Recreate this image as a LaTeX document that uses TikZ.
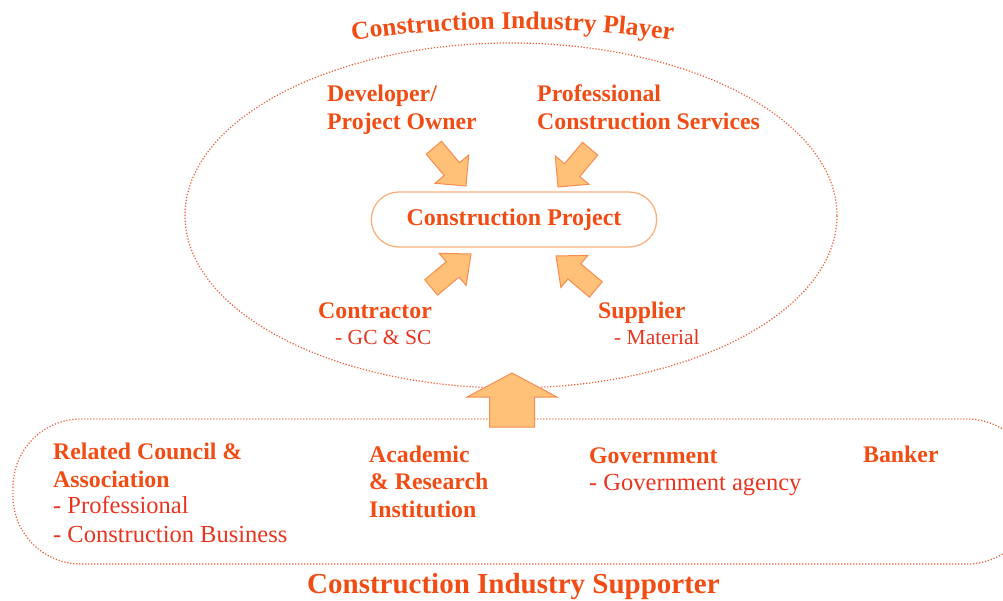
\documentclass[tikz,border=0pt]{standalone}
\usepackage{fontspec}
\setmainfont{Liberation Serif}
\usetikzlibrary{decorations.text,shapes.misc}

\definecolor{labelred}{RGB}{240,76,20}
\definecolor{subred}{RGB}{232,52,30}
\definecolor{dotline}{RGB}{240,90,50}
\definecolor{arrowfill}{RGB}{255,192,120}
\definecolor{arrowedge}{RGB}{246,140,80}
\definecolor{boxedge}{RGB}{250,175,125}

\tikzset{
  dotted outline/.style={draw=dotline, line width=1.2pt, dash pattern=on 1.2pt off 1.8pt},
  head/.style={font=\fontsize{23.8}{28}\selectfont\bfseries, text=labelred, inner sep=0pt, anchor=base west, align=left},
  sub/.style={font=\fontsize{24.5}{29}\selectfont, text=subred, inner sep=0pt, anchor=base west, align=left},
  smallsub/.style={sub, font=\fontsize{21.5}{26}\selectfont},
  arrowbody/.style={fill=arrowfill, draw=arrowedge, line width=1pt, line join=miter},
  % block arrow with its tip at the origin, pointing along +x
  % arguments: length / shaft width / head width / head length
  pics/blockarr/.style args={#1/#2/#3/#4}{code={
    \path[arrowbody] (0,0) -- ({-#4},{#3/2}) -- ({-#4},{#2/2}) -- ({-#1},{#2/2})
      -- ({-#1},{-#2/2}) -- ({-#4},{-#2/2}) -- ({-#4},{-#3/2}) -- cycle;
  }},
}

\begin{document}
\begin{tikzpicture}[x=1pt, y=-1pt]
\useasboundingbox (0,0) rectangle (1003,601);

% outer groups
\draw[dotted outline] (511,215.5) ellipse [x radius=326pt, y radius=172.5pt];
\draw[dotted outline, rounded corners=68pt] (13,419) rectangle (1035,564);

% curved heading of the upper group
\path[decorate, decoration={text along path, text align=center, text color=labelred,
  text={|\fontsize{25.5}{30}\selectfont\bfseries|Construction Industry Player}}]
  (350,41) .. controls (450,25) and (575,25) .. (675,41);

% centre of the upper group
\node[rounded rectangle, draw=boxedge, line width=1.3pt, minimum width=292pt, minimum height=55pt,
  font=\fontsize{24}{28}\selectfont\bfseries, text=labelred] (project) at (514,219.5) {Construction Project};

% multi-line labels are placed by the baseline of their last line
\node[head] (developer) at (327,130) {Developer/\\Project Owner};
\node[head] (services) at (537,130) {Professional\\Construction Services};
\node[head] (contractor) at (318,319) {Contractor};
\node[smallsub] (gcsc) at (335,344) {- GC \& SC};
\node[head] (supplier) at (598,319) {Supplier};
\node[smallsub] (material) at (614,344) {- Material};

\pic[rotate=-50] at (466,186) {blockarr=50/20/44/22};
\pic[rotate=-130] at (558,187) {blockarr=50/20/44/22};
\pic[rotate=40] at (471,254) {blockarr=52/20/42/24};
\pic[rotate=140] at (556,256) {blockarr=52/20/42/24};

% support from below
\pic[rotate=90] at (512,373) {blockarr=54/45/90/24};

% lower group
\node[head] (council) at (53,487) {Related Council \&\\Association};
\node[sub] (councilsub) at (53,542) {- Professional\\- Construction Business};
\node[head, font=\fontsize{23.8}{27.5}\selectfont\bfseries] (academic) at (369,517) {Academic\\\& Research\\Institution};
\node[head] (government) at (589,463) {Government};
\node[sub] (agency) at (589,490) {- Government agency};
\node[head] (banker) at (863,462) {Banker};

\node[head, font=\fontsize{29}{33}\selectfont\bfseries] (supporter) at (307,593) {Construction Industry Supporter};
\end{tikzpicture}
\end{document}
